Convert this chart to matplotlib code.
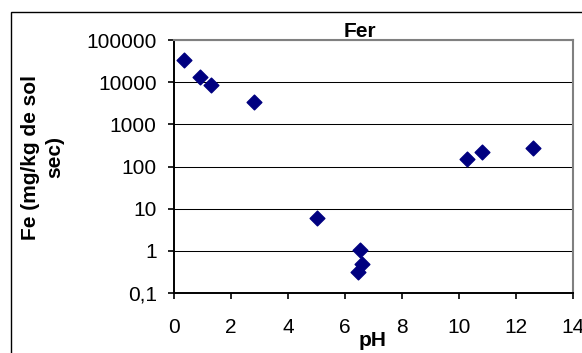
import matplotlib
matplotlib.use("Agg")
import matplotlib.pyplot as plt
from matplotlib.patches import Rectangle

plt.rcParams['font.family'] = ['Liberation Sans', 'DejaVu Sans']

# donnees
ph = [0.35, 0.91, 1.3, 2.8, 5.02, 6.53, 6.6, 6.45, 10.28, 10.8, 12.6]
fe = [34000, 13300, 8600, 3400, 6.0, 1.05, 0.49, 0.32, 150, 220, 275]

yticks = [0.1, 1, 10, 100, 1000, 10000, 100000]
ylabels = ['0,1', '1', '10', '100', '1000', '10000', '100000']
xticks = [0, 2, 4, 6, 8, 10, 12, 14]

W, H = 582, 353
fig = plt.figure(figsize=(W / 100, H / 100), dpi=100)
ax = fig.add_axes([174 / W, 1 - 293 / H, (573 - 174) / W, (293 - 40) / H])

ax.scatter(ph, fe, marker='D', s=7.5 ** 2, color='#000080', zorder=3)

ax.set_yscale('log')
ax.set_xlim(0, 14)
ax.set_ylim(0.1, 100000)
ax.set_yticks(yticks)
ax.set_yticklabels(ylabels)
ax.minorticks_off()
ax.set_xticks(xticks)

ax.grid(axis='y', color='black', linewidth=0.75)
ax.set_axisbelow(True)
ax.tick_params(axis='both', labelsize=15, direction='out', length=4.5, width=1.2, color='black')
ax.tick_params(axis='x', pad=13.5)
ax.tick_params(axis='y', pad=8)

for side in ['left', 'bottom']:
    ax.spines[side].set_color('black')
    ax.spines[side].set_linewidth(1.4)
for side in ['top', 'right']:
    ax.spines[side].set_color('#808080')
    ax.spines[side].set_linewidth(1.5)

fig.text(360 / W, 1 - 41 / H, 'Fer', fontsize=15, fontweight='bold', ha='center', va='bottom')
fig.text(373 / W, 1 - 346 / H, 'pH', fontsize=15, fontweight='bold', ha='center', va='baseline')
fig.text(43 / W, 1 - 157 / H, 'Fe (mg/kg de sol\nsec)', fontsize=15, fontweight='bold',
         rotation=90, ha='center', va='center', multialignment='center', linespacing=1.35)

# cadre exterieur du graphique
fig.patches.append(Rectangle((11 / W, -0.1), 1.2, 1 - 11.5 / H + 0.1, transform=fig.transFigure,
                             fill=False, edgecolor='black', linewidth=1.0))

fig.savefig('out.png', dpi=100)
